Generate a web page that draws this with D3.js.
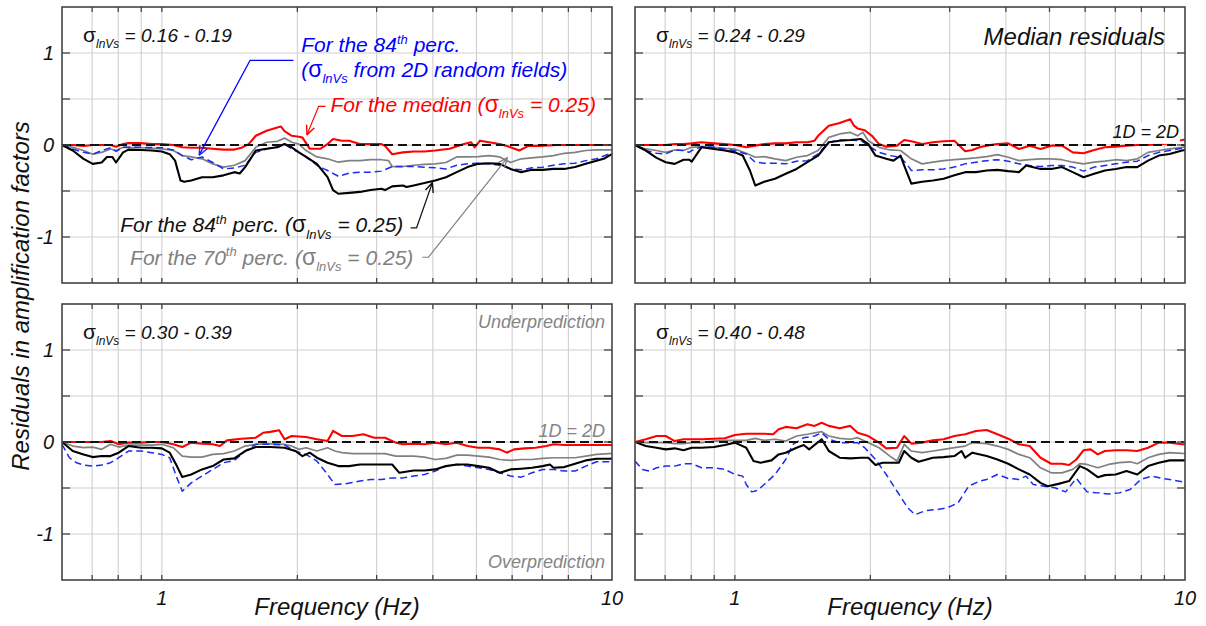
<!DOCTYPE html>
<html><head><meta charset="utf-8">
<script src="https://cdn.jsdelivr.net/npm/d3@7"></script>
<style>body{margin:0;background:#fff}svg{display:block}text{font-family:"Liberation Sans",Arial,sans-serif}</style>
</head><body>
<svg id="c" width="1206" height="626"></svg>
<script>
// ---------- axes / ticks ----------
const X_DOMAIN = [0.6, 10];
const Y_DOMAIN = [-1.5, 1.5];
const X_GRID = [0.7, 0.8, 0.9, 1, 2, 3, 4, 5, 6, 7, 8, 9];
const Y_GRID = [-1, -0.5, 0, 0.5, 1];
const Y_TICK_LABELS = [1, 0, -1];
const X_TICK_LABELS = [1, 10];
const RANGE_LABELS = ["0.16 - 0.19", "0.24 - 0.29", "0.30 - 0.39", "0.40 - 0.48"];

// ---------- data: [frequency (Hz), residual] ----------
// Top-left (sigma 0.16-0.19)
const TL_MEDIAN = [[0.600,0],[0.634,0],[0.670,-0.01],[0.702,0],[0.735,0],[0.769,0],[0.791,-0.02],[0.820,0.01],[0.843,0.02],[0.899,0.02],[0.950,0.01],[1.000,0.01],[1.060,0],[1.110,-0.025],[1.162,-0.03],[1.228,-0.03],[1.297,-0.04],[1.371,-0.05],[1.449,-0.05],[1.503,-0.03],[1.559,0.01],[1.617,0.10],[1.709,0.155],[1.805,0.19],[1.839,0.20],[1.873,0.15],[1.943,0.10],[2.016,0.09],[2.053,0.08],[2.130,-0.04],[2.251,-0.04],[2.334,0.01],[2.400,0.065],[2.512,0.047],[2.606,0.047],[2.754,0.01],[2.909,0.01],[3.074,0.01],[3.131,-0.01],[3.248,-0.10],[3.432,-0.08],[3.626,-0.07],[3.831,-0.07],[4.048,-0.06],[4.357,-0.04],[4.688,0.01],[4.863,0.03],[4.953,-0.025],[5.091,0.047],[5.330,0.03],[5.631,0.01],[5.841,-0.01],[6.227,-0.06],[6.519,-0.01],[6.887,-0.01],[7.551,0],[8.278,0],[9.070,0],[9.854,0],[10,0]];
const TL_P70 = [[0.600,0],[0.634,-0.025],[0.670,-0.06],[0.702,-0.10],[0.735,-0.08],[0.769,-0.043],[0.791,-0.06],[0.820,-0.025],[0.899,-0.03],[1.000,-0.043],[1.060,-0.06],[1.110,-0.115],[1.162,-0.13],[1.228,-0.15],[1.297,-0.205],[1.371,-0.24],[1.449,-0.22],[1.531,-0.17],[1.617,-0.025],[1.709,0.03],[1.805,0.04],[1.873,0.075],[1.943,0.03],[2.016,0.01],[2.091,-0.06],[2.210,-0.13],[2.334,-0.15],[2.466,-0.187],[2.606,-0.17],[2.754,-0.17],[2.909,-0.16],[3.074,-0.16],[3.189,-0.17],[3.248,-0.234],[3.432,-0.234],[3.626,-0.22],[3.831,-0.21],[4.048,-0.205],[4.277,-0.19],[4.519,-0.13],[4.775,-0.13],[5.045,-0.126],[5.330,-0.115],[5.631,-0.13],[5.949,-0.19],[6.284,-0.15],[6.640,-0.14],[7.015,-0.13],[7.416,-0.115],[7.834,-0.09],[8.278,-0.08],[8.745,-0.06],[9.241,-0.054],[9.854,-0.054],[10,-0.054]];
const TL_P84 = [[0.600,0],[0.634,-0.06],[0.670,-0.15],[0.702,-0.205],[0.735,-0.19],[0.755,-0.13],[0.776,-0.13],[0.791,-0.19],[0.820,-0.08],[0.843,-0.05],[0.899,-0.054],[0.950,-0.06],[1.000,-0.07],[1.041,-0.10],[1.070,-0.17],[1.100,-0.385],[1.121,-0.40],[1.162,-0.385],[1.228,-0.35],[1.297,-0.35],[1.371,-0.33],[1.449,-0.295],[1.489,-0.31],[1.531,-0.24],[1.617,-0.06],[1.709,-0.04],[1.805,-0.025],[1.873,0.01],[1.943,-0.025],[2.016,-0.08],[2.091,-0.13],[2.210,-0.205],[2.334,-0.35],[2.400,-0.49],[2.466,-0.53],[2.606,-0.52],[2.754,-0.51],[2.909,-0.49],[3.074,-0.475],[3.131,-0.49],[3.248,-0.45],[3.432,-0.44],[3.495,-0.457],[3.626,-0.44],[3.831,-0.414],[4.048,-0.385],[4.277,-0.35],[4.519,-0.295],[4.775,-0.24],[5.045,-0.205],[5.330,-0.198],[5.631,-0.205],[5.949,-0.26],[6.284,-0.295],[6.640,-0.27],[7.015,-0.27],[7.416,-0.26],[7.834,-0.26],[8.278,-0.24],[8.745,-0.205],[9.241,-0.17],[9.587,-0.15],[9.854,-0.115],[10,-0.10]];
const TL_RF84 = [[0.600,0],[0.634,-0.043],[0.670,-0.08],[0.702,-0.10],[0.735,-0.06],[0.769,-0.03],[0.791,-0.07],[0.820,-0.025],[0.899,-0.025],[1.000,-0.03],[1.060,-0.054],[1.110,-0.115],[1.162,-0.16],[1.228,-0.13],[1.297,-0.19],[1.371,-0.26],[1.449,-0.25],[1.531,-0.22],[1.617,-0.08],[1.709,-0.043],[1.805,-0.02],[1.873,0.01],[1.943,-0.043],[2.016,-0.08],[2.091,-0.13],[2.210,-0.22],[2.292,-0.26],[2.334,-0.277],[2.466,-0.34],[2.606,-0.306],[2.754,-0.295],[2.909,-0.295],[3.074,-0.284],[3.248,-0.234],[3.432,-0.234],[3.626,-0.234],[3.831,-0.241],[4.048,-0.248],[4.277,-0.26],[4.519,-0.22],[4.775,-0.205],[5.045,-0.198],[5.330,-0.205],[5.631,-0.22],[5.949,-0.26],[6.284,-0.27],[6.640,-0.248],[7.015,-0.241],[7.416,-0.22],[7.834,-0.205],[8.278,-0.198],[8.745,-0.17],[9.241,-0.15],[9.854,-0.097],[10,-0.09]];
// Top-right (sigma 0.24-0.29)
const TR_MEDIAN = [[0.600,0],[0.634,0],[0.670,0],[0.702,0],[0.735,0.01],[0.769,0.01],[0.802,0.018],[0.843,0.03],[0.899,0.018],[0.950,0.01],[1.000,0],[1.060,-0.025],[1.110,-0.007],[1.162,0.01],[1.228,0.018],[1.297,0.018],[1.371,0.03],[1.449,0.03],[1.503,0.047],[1.531,0.10],[1.617,0.21],[1.709,0.24],[1.805,0.28],[1.839,0.21],[1.873,0.18],[1.943,0.16],[2.016,0.10],[2.091,0.01],[2.169,-0.018],[2.292,-0.007],[2.378,0.054],[2.466,0.04],[2.606,0.01],[2.754,0.03],[2.909,0.04],[3.074,0.047],[3.248,-0.068],[3.370,-0.054],[3.495,-0.025],[3.626,-0.007],[3.831,0.01],[4.048,0.018],[4.277,-0.043],[4.519,-0.007],[4.775,-0.043],[5.045,-0.007],[5.330,-0.007],[5.631,-0.08],[5.949,-0.09],[6.284,-0.054],[6.640,-0.025],[7.015,-0.018],[7.416,-0.007],[7.834,0],[8.278,0],[8.745,0.01],[9.241,0.018],[9.854,0.054],[10,0.06]];
const TR_P70 = [[0.600,0],[0.634,-0.043],[0.670,-0.06],[0.702,-0.08],[0.735,-0.054],[0.769,-0.06],[0.802,-0.025],[0.843,-0.018],[0.899,-0.025],[0.950,-0.036],[1.000,-0.043],[1.060,-0.09],[1.110,-0.133],[1.162,-0.126],[1.228,-0.15],[1.297,-0.17],[1.371,-0.133],[1.449,-0.115],[1.531,-0.06],[1.617,0.083],[1.709,0.12],[1.805,0.137],[1.873,0.10],[1.925,0.137],[1.979,0.047],[2.091,-0.025],[2.210,-0.054],[2.334,-0.06],[2.466,-0.15],[2.606,-0.205],[2.754,-0.187],[2.909,-0.17],[3.074,-0.16],[3.248,-0.15],[3.432,-0.14],[3.626,-0.126],[3.831,-0.104],[4.048,-0.133],[4.277,-0.17],[4.519,-0.16],[4.775,-0.15],[5.045,-0.15],[5.330,-0.16],[5.631,-0.187],[5.949,-0.205],[6.284,-0.187],[6.640,-0.176],[7.015,-0.16],[7.416,-0.17],[7.834,-0.15],[8.278,-0.08],[8.745,-0.06],[9.241,-0.043],[9.854,-0.025],[10,-0.02]];
const TR_P84 = [[0.600,0],[0.634,-0.06],[0.670,-0.14],[0.702,-0.187],[0.735,-0.205],[0.769,-0.16],[0.791,-0.16],[0.802,-0.18],[0.843,-0.025],[0.899,-0.043],[0.950,-0.06],[1.000,-0.08],[1.041,-0.115],[1.080,-0.277],[1.110,-0.44],[1.162,-0.40],[1.228,-0.367],[1.297,-0.313],[1.371,-0.26],[1.449,-0.187],[1.531,-0.115],[1.617,0.03],[1.709,0.047],[1.805,0.054],[1.908,0.065],[1.979,0.01],[2.053,-0.115],[2.169,-0.15],[2.251,-0.17],[2.334,-0.115],[2.378,-0.223],[2.466,-0.42],[2.606,-0.40],[2.754,-0.385],[2.909,-0.367],[3.074,-0.33],[3.248,-0.295],[3.432,-0.295],[3.626,-0.277],[3.831,-0.27],[4.048,-0.284],[4.277,-0.295],[4.436,-0.223],[4.775,-0.26],[5.045,-0.26],[5.330,-0.24],[5.631,-0.295],[5.949,-0.35],[6.284,-0.313],[6.640,-0.277],[7.015,-0.26],[7.416,-0.24],[7.834,-0.24],[8.278,-0.17],[8.745,-0.115],[9.241,-0.097],[9.854,-0.06],[10,-0.055]];
const TR_RF84 = [[0.600,0],[0.634,-0.06],[0.670,-0.09],[0.702,-0.097],[0.735,-0.054],[0.769,-0.06],[0.791,-0.08],[0.802,-0.06],[0.843,-0.018],[0.899,-0.025],[0.950,-0.043],[1.000,-0.06],[1.060,-0.097],[1.110,-0.187],[1.162,-0.198],[1.228,-0.198],[1.297,-0.205],[1.371,-0.176],[1.449,-0.17],[1.531,-0.097],[1.617,0.03],[1.709,0.054],[1.805,0.054],[1.908,0.047],[1.979,-0.007],[2.091,-0.08],[2.210,-0.115],[2.334,-0.133],[2.422,-0.223],[2.466,-0.277],[2.606,-0.27],[2.754,-0.27],[2.909,-0.26],[3.074,-0.24],[3.248,-0.205],[3.432,-0.187],[3.626,-0.17],[3.831,-0.16],[4.048,-0.176],[4.277,-0.205],[4.519,-0.223],[4.775,-0.234],[5.045,-0.223],[5.330,-0.223],[5.631,-0.24],[5.949,-0.284],[6.284,-0.24],[6.640,-0.223],[7.015,-0.205],[7.416,-0.187],[7.834,-0.176],[8.278,-0.115],[8.745,-0.08],[9.241,-0.06],[9.854,-0.036],[10,-0.03]];
// Bottom-left (sigma 0.30-0.39)
const BL_MEDIAN = [[0.600,0],[0.634,0],[0.670,0],[0.702,0],[0.735,0],[0.769,0.01],[0.802,-0.025],[0.843,-0.007],[0.899,-0.007],[0.950,0],[1.000,0],[1.060,-0.025],[1.110,-0.055],[1.162,-0.007],[1.228,-0.018],[1.297,-0.025],[1.346,-0.044],[1.396,0.018],[1.503,0.036],[1.617,0.047],[1.678,0.10],[1.740,0.11],[1.822,0.127],[1.873,0.03],[1.943,0.065],[2.091,0.055],[2.210,0.03],[2.334,0.01],[2.400,0.12],[2.512,0.065],[2.654,0.065],[2.804,0.084],[2.963,0.047],[3.131,0.047],[3.308,-0.007],[3.432,-0.025],[3.626,-0.018],[3.831,-0.025],[4.048,-0.007],[4.277,-0.025],[4.519,-0.007],[4.775,-0.044],[5.045,-0.062],[5.330,-0.062],[5.631,-0.08],[5.841,-0.116],[6.059,-0.08],[6.401,-0.069],[6.763,-0.062],[7.145,-0.044],[7.416,-0.025],[7.834,-0.033],[8.278,-0.033],[8.745,-0.033],[9.241,-0.033],[9.854,-0.033],[10,-0.033]];
const BL_P70 = [[0.600,0],[0.634,-0.044],[0.670,-0.062],[0.702,-0.055],[0.735,-0.08],[0.769,-0.025],[0.802,-0.055],[0.843,-0.033],[0.899,-0.033],[0.950,-0.033],[1.000,-0.025],[1.060,-0.062],[1.110,-0.153],[1.162,-0.164],[1.228,-0.164],[1.297,-0.135],[1.371,-0.127],[1.449,-0.098],[1.531,-0.044],[1.617,-0.025],[1.740,-0.018],[1.873,-0.025],[1.943,-0.044],[2.016,-0.08],[2.091,-0.062],[2.210,-0.098],[2.334,-0.062],[2.422,-0.098],[2.512,-0.116],[2.654,-0.127],[2.804,-0.127],[2.963,-0.127],[3.131,-0.127],[3.308,-0.153],[3.626,-0.153],[3.831,-0.164],[4.048,-0.19],[4.277,-0.178],[4.519,-0.142],[4.775,-0.142],[5.045,-0.153],[5.330,-0.164],[5.631,-0.19],[5.949,-0.2],[6.284,-0.19],[6.640,-0.19],[7.015,-0.178],[7.416,-0.171],[7.834,-0.171],[8.278,-0.171],[8.745,-0.153],[9.241,-0.135],[9.854,-0.127],[10,-0.125]];
const BL_P84 = [[0.600,0],[0.634,-0.098],[0.670,-0.135],[0.702,-0.164],[0.735,-0.153],[0.769,-0.153],[0.802,-0.116],[0.843,-0.044],[0.899,-0.062],[0.950,-0.062],[1.000,-0.069],[1.041,-0.116],[1.080,-0.262],[1.110,-0.38],[1.162,-0.353],[1.228,-0.298],[1.297,-0.262],[1.371,-0.19],[1.449,-0.178],[1.531,-0.098],[1.617,-0.055],[1.740,-0.055],[1.873,-0.062],[1.979,-0.098],[2.053,-0.153],[2.130,-0.116],[2.210,-0.171],[2.334,-0.225],[2.466,-0.262],[2.606,-0.262],[2.754,-0.244],[2.909,-0.244],[3.074,-0.244],[3.248,-0.244],[3.370,-0.335],[3.626,-0.31],[3.831,-0.31],[4.048,-0.298],[4.277,-0.262],[4.519,-0.244],[4.775,-0.244],[5.045,-0.262],[5.330,-0.28],[5.631,-0.335],[5.949,-0.298],[6.284,-0.29],[6.640,-0.28],[7.015,-0.262],[7.277,-0.244],[7.416,-0.28],[7.834,-0.273],[8.278,-0.236],[8.745,-0.2],[9.241,-0.182],[9.854,-0.182],[10,-0.18]];
const BL_RF84 = [[0.600,-0.025],[0.623,-0.171],[0.646,-0.225],[0.670,-0.25],[0.702,-0.262],[0.735,-0.25],[0.769,-0.225],[0.802,-0.171],[0.843,-0.098],[0.899,-0.098],[0.950,-0.116],[1.000,-0.135],[1.041,-0.171],[1.080,-0.39],[1.110,-0.535],[1.162,-0.444],[1.228,-0.37],[1.297,-0.298],[1.371,-0.225],[1.449,-0.2],[1.531,-0.098],[1.617,-0.025],[1.740,-0.025],[1.873,-0.033],[1.979,-0.098],[2.091,-0.135],[2.210,-0.207],[2.334,-0.353],[2.422,-0.462],[2.559,-0.455],[2.754,-0.425],[2.909,-0.407],[3.074,-0.407],[3.248,-0.39],[3.432,-0.39],[3.626,-0.37],[3.831,-0.353],[4.048,-0.316],[4.277,-0.262],[4.519,-0.244],[4.775,-0.262],[5.045,-0.28],[5.330,-0.298],[5.631,-0.335],[5.949,-0.37],[6.284,-0.382],[6.640,-0.335],[7.015,-0.298],[7.416,-0.298],[7.834,-0.316],[8.278,-0.316],[8.745,-0.262],[9.241,-0.215],[9.854,-0.215],[10,-0.22]];
// Bottom-right (sigma 0.40-0.48)
const BR_MEDIAN = [[0.600,0],[0.634,0.03],[0.670,0.065],[0.702,0.065],[0.735,0.01],[0.769,0.03],[0.802,0.03],[0.843,0.03],[0.899,0.036],[0.950,0.04],[1.000,0.076],[1.060,0.09],[1.110,0.09],[1.162,0.09],[1.217,0.084],[1.251,0.138],[1.297,0.164],[1.371,0.15],[1.449,0.193],[1.503,0.175],[1.559,0.21],[1.617,0.175],[1.709,0.15],[1.805,0.175],[1.873,0.10],[1.979,0.065],[2.091,-0.007],[2.169,-0.069],[2.292,-0.062],[2.378,0.065],[2.466,-0.018],[2.606,-0.007],[2.754,0.018],[2.909,0.03],[3.074,0.065],[3.248,0.084],[3.432,0.12],[3.626,0.13],[3.831,0.084],[4.048,0.036],[4.277,-0.025],[4.519,-0.044],[4.775,-0.171],[5.045,-0.236],[5.330,-0.236],[5.528,-0.25],[5.735,-0.19],[5.949,-0.09],[6.170,-0.08],[6.401,-0.135],[6.640,-0.098],[7.015,-0.09],[7.416,-0.09],[7.834,-0.098],[8.278,-0.062],[8.745,-0.007],[9.241,-0.007],[9.854,-0.025],[10,-0.025]];
const BR_P70 = [[0.600,0],[0.634,-0.007],[0.670,-0.007],[0.702,-0.007],[0.735,-0.018],[0.769,-0.018],[0.802,-0.007],[0.843,-0.007],[0.899,0.01],[0.950,0.018],[1.000,0.018],[1.060,0.018],[1.110,0.04],[1.162,0.018],[1.228,0.03],[1.297,0.01],[1.371,0.065],[1.449,0.084],[1.559,0.113],[1.617,0.065],[1.709,0.04],[1.805,0.03],[1.873,0.047],[1.979,-0.007],[2.091,-0.062],[2.210,-0.153],[2.292,-0.207],[2.378,-0.025],[2.466,-0.098],[2.606,-0.116],[2.754,-0.098],[2.909,-0.08],[3.074,-0.062],[3.248,-0.044],[3.370,-0.007],[3.626,-0.018],[3.831,-0.044],[4.048,-0.08],[4.277,-0.135],[4.519,-0.171],[4.775,-0.28],[5.045,-0.335],[5.330,-0.335],[5.631,-0.298],[5.841,-0.236],[6.059,-0.244],[6.401,-0.28],[6.763,-0.244],[7.145,-0.225],[7.551,-0.215],[7.834,-0.236],[8.278,-0.171],[8.745,-0.135],[9.241,-0.116],[9.854,-0.124],[10,-0.125]];
const BR_P84 = [[0.600,0],[0.634,-0.044],[0.670,-0.062],[0.702,-0.08],[0.735,-0.069],[0.769,-0.09],[0.802,-0.062],[0.843,-0.062],[0.899,-0.055],[0.950,-0.033],[1.000,-0.007],[1.060,-0.062],[1.100,-0.207],[1.141,-0.225],[1.206,-0.2],[1.251,-0.135],[1.297,-0.116],[1.371,-0.062],[1.422,-0.033],[1.462,-0.08],[1.559,0.03],[1.617,-0.098],[1.709,-0.171],[1.805,-0.178],[1.908,-0.171],[1.979,-0.171],[2.053,-0.25],[2.130,-0.225],[2.251,-0.225],[2.313,-0.225],[2.378,-0.098],[2.466,-0.171],[2.559,-0.215],[2.754,-0.171],[2.909,-0.164],[3.074,-0.153],[3.189,-0.098],[3.248,-0.171],[3.370,-0.116],[3.626,-0.153],[3.831,-0.19],[4.048,-0.236],[4.277,-0.298],[4.519,-0.353],[4.775,-0.444],[4.953,-0.48],[5.233,-0.455],[5.528,-0.425],[5.841,-0.262],[6.059,-0.298],[6.401,-0.382],[6.640,-0.36],[7.015,-0.353],[7.416,-0.316],[7.834,-0.353],[8.278,-0.262],[8.745,-0.225],[9.241,-0.2],[9.854,-0.2],[10,-0.2]];
const BR_RF84 = [[0.600,-0.207],[0.623,-0.298],[0.646,-0.316],[0.670,-0.28],[0.702,-0.262],[0.735,-0.262],[0.769,-0.236],[0.802,-0.236],[0.843,-0.28],[0.899,-0.28],[0.950,-0.298],[1.000,-0.353],[1.041,-0.371],[1.060,-0.462],[1.090,-0.542],[1.121,-0.527],[1.162,-0.462],[1.228,-0.353],[1.297,-0.19],[1.346,-0.025],[1.422,0.047],[1.503,0.065],[1.559,0.10],[1.617,0.03],[1.709,-0.007],[1.805,-0.007],[1.873,-0.007],[1.943,-0.062],[2.053,-0.19],[2.169,-0.353],[2.292,-0.535],[2.422,-0.716],[2.512,-0.79],[2.654,-0.745],[2.804,-0.735],[2.963,-0.716],[3.131,-0.662],[3.308,-0.48],[3.495,-0.425],[3.626,-0.407],[3.831,-0.353],[4.048,-0.396],[4.277,-0.407],[4.436,-0.371],[4.602,-0.462],[4.863,-0.48],[5.138,-0.498],[5.429,-0.542],[5.735,-0.396],[6.059,-0.542],[6.401,-0.553],[6.763,-0.564],[7.145,-0.553],[7.551,-0.516],[7.980,-0.407],[8.432,-0.371],[8.910,-0.396],[9.241,-0.407],[9.854,-0.433],[10,-0.44]];

// ---------- styling ----------
const COLORS = {median:"#ff0000", p70:"#808080", p84:"#000000", rf84:"#1a2cf0"};
const FONT_AXIS = 24, FONT_TICK = 20, FONT_PANEL = 19, FONT_NOTE = 21;

const svg = d3.select("#c");
const defs = svg.append("defs");
const PW = 550, PH = 276;
const panels = [
  {x:62,  y:7,   label:RANGE_LABELS[0], s:{median:TL_MEDIAN,p70:TL_P70,p84:TL_P84,rf84:TL_RF84}, left:true,  bottom:false},
  {x:635, y:7,   label:RANGE_LABELS[1], s:{median:TR_MEDIAN,p70:TR_P70,p84:TR_P84,rf84:TR_RF84}, left:false, bottom:false},
  {x:62,  y:304, label:RANGE_LABELS[2], s:{median:BL_MEDIAN,p70:BL_P70,p84:BL_P84,rf84:BL_RF84}, left:true,  bottom:true},
  {x:635, y:304, label:RANGE_LABELS[3], s:{median:BR_MEDIAN,p70:BR_P70,p84:BR_P84,rf84:BR_RF84}, left:false, bottom:true}
];

function richText(g, x, y, parts, o) {
  const t = g.append("text").attr("x", x).attr("y", y)
    .attr("font-size", o.size).attr("fill", o.color || "#111")
    .attr("text-anchor", o.anchor || "start").attr("font-style", "italic");
  let shift = 0;
  parts.forEach(p => {
    const ts = t.append("tspan").text(p.t);
    const target = p.sub ? o.size * 0.3 : p.sup ? -o.size * 0.4 : 0;
    ts.attr("dy", target - shift); shift = target;
    if (p.sub || p.sup) ts.attr("font-size", Math.round(o.size * 0.62));
    if (p.upright) ts.attr("font-style", "normal").attr("font-size", Math.round(o.size * 1.08));
  });
  return t;
}
const sig = (rest) => [{t:"σ", upright:true}, {t:"lnVs", sub:true}, {t:rest}];

["blue","red","black","grey"].forEach((k) => {
  const col = {blue:COLORS.rf84, red:COLORS.median, black:"#111", grey:"#808080"}[k];
  defs.append("marker").attr("id","ar-"+k).attr("viewBox","0 0 10 10")
    .attr("refX",9.5).attr("refY",5).attr("markerWidth",10).attr("markerHeight",10)
    .attr("markerUnits","userSpaceOnUse").attr("orient","auto")
    .append("path").attr("d","M0,0.8 L9.5,5 L0,9.2").attr("fill","none")
    .attr("stroke",col).attr("stroke-width",1.4);
});

panels.forEach((P, i) => {
  const x = d3.scaleLog().domain(X_DOMAIN).range([P.x, P.x + PW]);
  const y = d3.scaleLinear().domain(Y_DOMAIN).range([P.y + PH, P.y]);
  P.xs = x; P.ys = y;
  const g = svg.append("g");
  defs.append("clipPath").attr("id","clip"+i).append("rect")
    .attr("x",P.x).attr("y",P.y).attr("width",PW).attr("height",PH);

  // grid
  g.selectAll(".vg").data(X_GRID).join("line")
    .attr("x1",d=>x(d)).attr("x2",d=>x(d)).attr("y1",P.y).attr("y2",P.y+PH)
    .attr("stroke","#cfcfcf").attr("stroke-width",1.1);
  g.selectAll(".hg").data(Y_GRID).join("line")
    .attr("x1",P.x).attr("x2",P.x+PW).attr("y1",d=>y(d)).attr("y2",d=>y(d))
    .attr("stroke","#cfcfcf").attr("stroke-width",1.1);

  // series
  const line = d3.line().x(d=>x(d[0])).y(d=>y(d[1]));
  const lg = g.append("g").attr("clip-path","url(#clip"+i+")");
  lg.append("path").attr("d",line(P.s.p70)).attr("fill","none").attr("stroke",COLORS.p70).attr("stroke-width",1.7).attr("stroke-linejoin","round");
  lg.append("path").attr("d",line(P.s.rf84)).attr("fill","none").attr("stroke",COLORS.rf84).attr("stroke-width",1.5).attr("stroke-dasharray","7,4").attr("stroke-linejoin","round");
  lg.append("path").attr("d",line(P.s.p84)).attr("fill","none").attr("stroke",COLORS.p84).attr("stroke-width",2.1).attr("stroke-linejoin","round");
  lg.append("path").attr("d",line(P.s.median)).attr("fill","none").attr("stroke",COLORS.median).attr("stroke-width",2.1).attr("stroke-linejoin","round");
  P.g = g; P.lg = lg;

  if (i === 1) { // text box "1D = 2D" with white background
    g.append("rect").attr("x",x(7.9)).attr("y",y(0.24)).attr("width",x(9.75)-x(7.9)).attr("height",y(0.012)-y(0.24)).attr("fill","#fff");
  }
  // zero line
  g.append("line").attr("x1",P.x).attr("x2",P.x+PW).attr("y1",y(0)).attr("y2",y(0))
    .attr("stroke","#111").attr("stroke-width",2.2).attr("stroke-dasharray","9,5");

  // frame & ticks
  const fc = "#444";
  g.append("rect").attr("x",P.x).attr("y",P.y).attr("width",PW).attr("height",PH)
    .attr("fill","none").attr("stroke",fc).attr("stroke-width",1.6);
  X_GRID.forEach(v => {
    g.append("line").attr("x1",x(v)).attr("x2",x(v)).attr("y1",P.y).attr("y2",P.y+5).attr("stroke",fc).attr("stroke-width",1.3);
    g.append("line").attr("x1",x(v)).attr("x2",x(v)).attr("y1",P.y+PH).attr("y2",P.y+PH-5).attr("stroke",fc).attr("stroke-width",1.3);
  });
  Y_GRID.forEach(v => {
    g.append("line").attr("x1",P.x).attr("x2",P.x+8).attr("y1",y(v)).attr("y2",y(v)).attr("stroke",fc).attr("stroke-width",1.3);
    g.append("line").attr("x1",P.x+PW).attr("x2",P.x+PW-8).attr("y1",y(v)).attr("y2",y(v)).attr("stroke",fc).attr("stroke-width",1.3);
  });

  if (P.left) {
    g.selectAll(".yl").data(Y_TICK_LABELS).join("text")
      .attr("x",P.x-8).attr("y",d=>y(d)+7).attr("text-anchor","end")
      .attr("font-size",FONT_TICK).attr("font-style","italic").attr("fill","#111")
      .text(d=>d);
  }
  if (P.bottom) {
    g.selectAll(".xl").data(X_TICK_LABELS).join("text")
      .attr("x",d=>x(d)).attr("y",P.y+PH+25).attr("text-anchor","middle")
      .attr("font-size",FONT_TICK).attr("font-style","italic").attr("fill","#111")
      .text(d=>d);
    g.append("text").attr("x",P.x+PW/2).attr("y",P.y+PH+35).attr("text-anchor","middle")
      .attr("font-size",FONT_AXIS).attr("font-style","italic").attr("fill","#111")
      .text("Frequency (Hz)");
  }
  richText(g, P.x + 21, P.y + 35, sig(" = " + P.label), {size:FONT_PANEL});
});

// axis title
svg.append("text").attr("transform","translate(29,296) rotate(-90)").attr("text-anchor","middle")
  .attr("font-size",FONT_AXIS).attr("font-style","italic").attr("fill","#111")
  .text("Residuals in amplification factors");

// top-right notes
{
  const P = panels[1];
  P.g.append("text").attr("x",P.x+PW-20).attr("y",P.y+38).attr("text-anchor","end")
    .attr("font-size",FONT_AXIS).attr("font-style","italic").attr("fill","#111").text("Median residuals");
  P.g.append("text").attr("x",P.x+PW-6).attr("y",P.ys(0)-7).attr("text-anchor","end")
    .attr("font-size",18).attr("font-style","italic").attr("fill","#111").text("1D = 2D");
}
// bottom-left notes
{
  const P = panels[2];
  const add = (yy, s) => P.g.append("text").attr("x",P.x+PW-7).attr("y",yy).attr("text-anchor","end")
    .attr("font-size",18).attr("font-style","italic").attr("fill","#858585").text(s);
  add(P.y+24, "Underprediction");
  add(P.ys(0)-5, "1D = 2D");
  add(P.y+PH-12, "Overprediction");
}
// top-left annotations (anchored in data coordinates)
{
  const P = panels[0], x = P.xs, y = P.ys, g = P.g;
  const leader = (pts, k, col) => g.append("path")
    .attr("d", d3.line()(pts.map(p => [x(p[0]), y(p[1])])))
    .attr("fill","none").attr("stroke",col).attr("stroke-width",1.2).attr("marker-end","url(#ar-"+k+")");

  richText(g, x(2.04), y(1.01), [{t:"For the 84"},{t:"th",sup:true},{t:" perc."}], {size:FONT_NOTE, color:"#0000ff"});
  richText(g, x(2.04), y(0.74), [{t:"("},{t:"σ",upright:true},{t:"lnVs",sub:true},{t:" from 2D random fields)"}], {size:FONT_NOTE, color:"#0000ff"});
  leader([[1.96,0.92],[1.57,0.92],[1.21,-0.11]], "blue", "#0000ff");

  richText(g, x(2.37), y(0.36), [{t:"For the median ("},{t:"σ",upright:true},{t:"lnVs",sub:true},{t:" = 0.25)"}], {size:FONT_NOTE, color:"#ff0000"});
  leader([[2.31,0.42],[2.23,0.42],[2.10,0.11]], "red", "#ff0000");

  richText(g, x(3.44), y(-0.95), [{t:"For the 84"},{t:"th",sup:true},{t:" perc. ("},{t:"σ",upright:true},{t:"lnVs",sub:true},{t:" = 0.25)"}], {size:FONT_NOTE, color:"#111", anchor:"end"});
  leader([[3.57,-0.90],[3.68,-0.90],[3.99,-0.41]], "black", "#111");

  richText(g, x(3.62), y(-1.30), [{t:"For the 70"},{t:"th",sup:true},{t:" perc. ("},{t:"σ",upright:true},{t:"lnVs",sub:true},{t:" = 0.25)"}], {size:FONT_NOTE, color:"#808080", anchor:"end"});
  leader([[3.79,-1.22],[3.91,-1.22],[5.85,-0.14]], "grey", "#808080");
}
</script></body></html>
